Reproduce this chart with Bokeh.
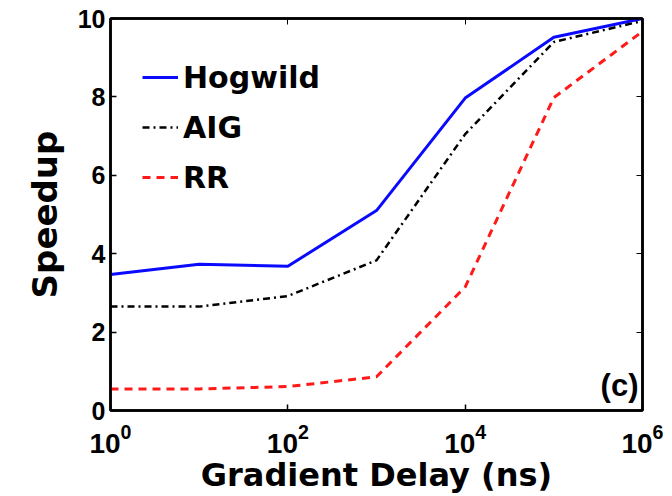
from bokeh.plotting import figure
from bokeh.models import (Range1d, FixedTicker, LogAxis, LinearAxis, Legend, LegendItem, Label)
from bokeh.embed import file_html
from bokeh.resources import INLINE

# Data
delay_ns = [1, 10, 100, 1000, 10000, 100000, 1000000]
hogwild = [3.47, 3.73, 3.68, 5.1, 7.97, 9.52, 10.0]
aig = [2.65, 2.65, 2.92, 3.83, 7.05, 9.4, 9.94]
rr = [0.55, 0.55, 0.61, 0.86, 3.15, 7.98, 9.67]
x_ticks = [1, 100, 10000, 1000000]
y_ticks = [0, 2, 4, 6, 8, 10]

FONT = "Liberation Sans"
TFONT = "DejaVu Sans"

p = figure(width=672, height=496, x_axis_type="log", output_backend="svg",
           toolbar_location=None,
           x_range=Range1d(1, 1e6), y_range=Range1d(0, 10),
           min_border_left=110, min_border_right=30, min_border_top=18, min_border_bottom=86)
p.grid.grid_line_color = None
p.outline_line_color = "black"
p.outline_line_width = 2.5
p.background_fill_color = "white"
p.border_fill_color = "white"

r1 = p.line(delay_ns, hogwild, line_color="#0a0aff", line_width=3)
r2 = p.line(delay_ns, aig, line_color="black", line_width=2.5, line_dash="7 4 2 4")
r3 = p.line(delay_ns, rr, line_color="#ff1a1a", line_width=3, line_dash="8 6")

for ax in (p.xaxis[0], p.yaxis[0]):
    ax.axis_line_width = 2.5
    ax.major_tick_in = 6
    ax.major_tick_out = 0
    ax.minor_tick_in = 0
    ax.minor_tick_out = 0
    ax.major_tick_line_width = 1.5
    ax.major_label_text_font = FONT
    ax.major_label_text_font_style = "bold"
    ax.major_label_text_color = "black"
    ax.axis_label_text_font = TFONT
    ax.axis_label_text_font_style = "bold"
    ax.axis_label_text_color = "black"

p.xaxis[0].axis_label_text_font_size = "32px"
p.yaxis[0].axis_label_text_font_size = "34px"
p.xaxis[0].major_label_text_font_size = "28px"
p.yaxis[0].major_label_text_font_size = "25px"
p.xaxis[0].ticker = FixedTicker(ticks=x_ticks, minor_ticks=[])
p.yaxis[0].ticker = FixedTicker(ticks=y_ticks, minor_ticks=[])
p.xaxis[0].axis_label = "Gradient Delay (ns)"
p.yaxis[0].axis_label = "Speedup"
p.xaxis[0].major_label_standoff = 13
p.xaxis[0].axis_label_standoff = 0
p.yaxis[0].major_label_standoff = 5
p.yaxis[0].axis_label_standoff = 10

top = LogAxis(ticker=FixedTicker(ticks=x_ticks, minor_ticks=[]), major_label_text_color=None,
              major_tick_in=6, major_tick_out=0, minor_tick_in=0, minor_tick_out=0, axis_line_width=2.5)
right = LinearAxis(ticker=FixedTicker(ticks=y_ticks, minor_ticks=[]), major_label_text_color=None,
                   major_tick_in=6, major_tick_out=0, minor_tick_in=0, minor_tick_out=0, axis_line_width=2.5)
p.add_layout(top, "above")
p.add_layout(right, "right")

legend = Legend(items=[LegendItem(label="Hogwild", renderers=[r1]),
                       LegendItem(label="AIG", renderers=[r2]),
                       LegendItem(label="RR", renderers=[r3])],
                location=(32, 215), border_line_color=None, background_fill_alpha=0,
                label_text_font=TFONT, label_text_font_style="bold", label_text_font_size="30px",
                label_text_color="black",
                glyph_width=36, glyph_height=36, label_height=36, spacing=14, label_standoff=5,
                padding=0, margin=0)
p.add_layout(legend)

p.add_layout(Label(x=1e6, y=0.2, text="(c)", text_align="right", x_offset=-4,
                   text_font=FONT, text_font_style="bold", text_font_size="31px", text_color="black"))

open("out.html", "w").write(file_html(p, INLINE))
